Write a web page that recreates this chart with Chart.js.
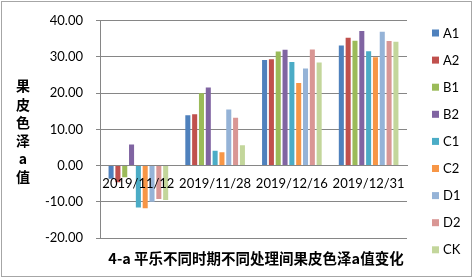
<!DOCTYPE html>
<html><head><meta charset="utf-8">
<script src="https://cdn.jsdelivr.net/npm/chart.js@4/dist/chart.umd.min.js"></script>
<style>html,body{margin:0;padding:0;background:#fff;}#wrap{width:473px;height:278px;position:relative;}</style>
</head><body><div id="wrap"><canvas id="c" width="473" height="278"></canvas></div>
<script>
const categories = ['2019/11/12','2019/11/28','2019/12/16','2019/12/31'];
const seriesNames = ['A1','A2','B1','B2','C1','C2','D1','D2','CK'];
const A1 = [-3.6, 13.9, 29.2, 33.2];
const A2 = [-4.6, 14.2, 29.4, 35.3];
const B1 = [-3.2, 20.0, 31.5, 34.5];
const B2 = [5.8, 21.6, 32.0, 37.2];
const C1 = [-11.6, 4.1, 28.6, 31.6];
const C2 = [-11.8, 3.7, 22.8, 29.9];
const D1 = [-10.0, 15.5, 26.8, 37.0];
const D2 = [-9.2, 13.2, 32.1, 34.4];
const CK = [-9.5, 5.6, 28.5, 34.2];
const yTicks = [-20, -10, 0, 10, 20, 30, 40];
const colors = ['#4F81BD','#C0504D','#9BBB59','#8064A2','#4BACC6','#F79646','#95B3D7','#D99694','#C3D69B'];
const seriesValues = [A1,A2,B1,B2,C1,C2,D1,D2,CK];
const yTitle = ['果','皮','色','泽','a','值'];
const chartTitle = '4-a 平乐不同时期不同处理间果皮色泽a值变化';

const extras = {
  id: 'extras',
  afterDraw(chart) {
    const ctx = chart.ctx;
    ctx.save();
    ctx.strokeStyle = '#a6a6a6'; ctx.lineWidth = 1;
    ctx.strokeRect(1.5, 1.5, 470, 275);
    ctx.fillStyle = '#000';
    ctx.textAlign = 'center'; ctx.textBaseline = 'middle';
    ctx.font = 'bold 14px "Noto Sans CJK SC", sans-serif';
    yTitle.forEach((ch, i) => ctx.fillText(ch, 23, 86 + i * 18.2));
    ctx.font = 'bold 14.5px "Noto Sans CJK SC", sans-serif';
    ctx.fillText(chartTitle, 256, 258);
    ctx.textAlign = 'left';
    ctx.font = '13px Lato, sans-serif';
    chart.data.datasets.forEach((ds, i) => {
      const y = 33 + i * 27.1;
      ctx.fillStyle = ds.backgroundColor;
      ctx.fillRect(432, y - 3.5, 7, 7);
      ctx.fillStyle = '#000';
      ctx.fillText(ds.label, 443, y + 0.5);
    });
    ctx.restore();
  }
};

new Chart(document.getElementById('c'), {
  type: 'bar',
  data: {
    labels: categories,
    datasets: seriesNames.map((n, i) => ({
      label: n, data: seriesValues[i], backgroundColor: colors[i],
      barPercentage: 0.74, categoryPercentage: 0.8
    }))
  },
  options: {
    responsive: false, animation: false, devicePixelRatio: 1,
    layout: { padding: { left: 0, right: 66, top: 19, bottom: 40 } },
    plugins: { legend: { display: false }, tooltip: { enabled: false }, title: { display: false } },
    scales: {
      x: {
        position: { y: 0 },
        z: 1,
        grid: { display: false, drawTicks: false },
        border: { display: true, color: '#868686' },
        ticks: { z: 1, color: '#000', font: { family: 'Lato', size: 13 }, padding: 10, maxRotation: 0, autoSkip: false },
        afterFit(s) { s.height = 0; }
      },
      y: {
        min: -20, max: 40,
        afterBuildTicks(s) { s.ticks = yTicks.map(v => ({ value: v })); },
        grid: { color: '#868686', tickLength: 4, drawTicks: true },
        border: { display: true, color: '#868686' },
        ticks: { color: '#000', font: { family: 'Lato', size: 13 }, padding: 13, callback: v => Number(v).toFixed(2) },
        afterFit(s) { s.width = 100; }
      }
    }
  },
  plugins: [extras]
});
</script></body></html>
